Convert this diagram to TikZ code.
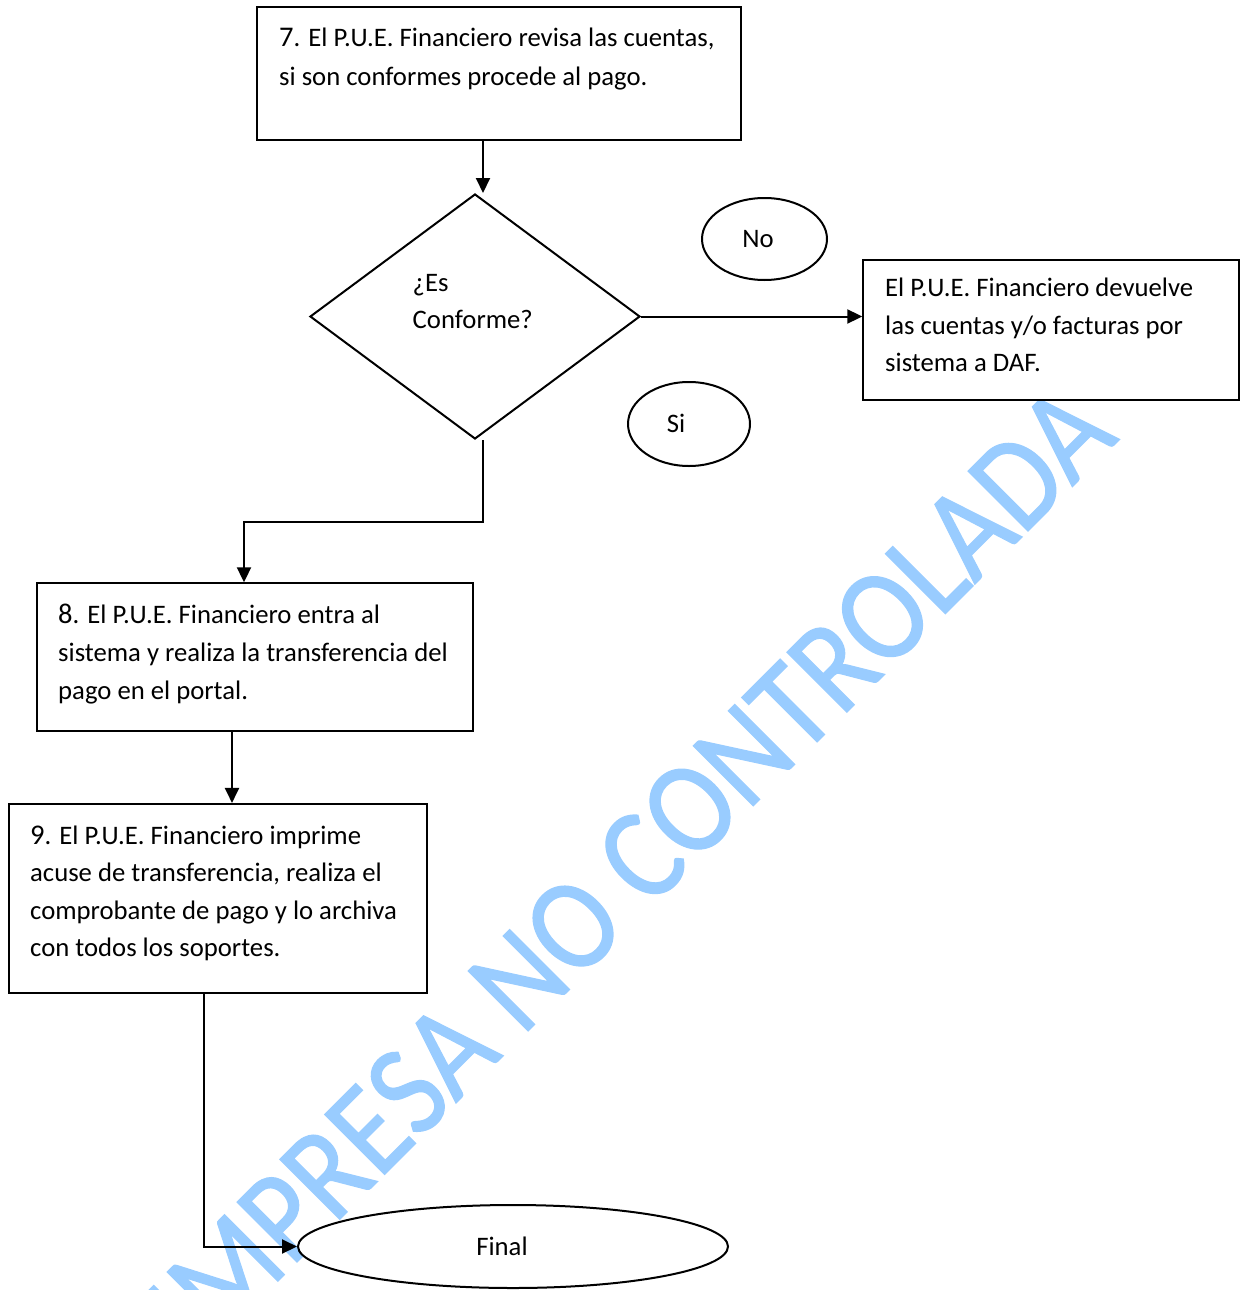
\documentclass[tikz,border=0pt]{standalone}
\usepackage{fontspec}
\setmainfont{Carlito}
\newfontfamily\wmfamily{Carlito}[FakeBold=1]
\usetikzlibrary{shapes.geometric,arrows.meta}
\definecolor{wmblue}{RGB}{153,204,255}
\newcommand\bodysize{\fontsize{26.7pt}{38.5pt}\selectfont}
\newcommand\numsize{\fontsize{28.5pt}{38.5pt}\selectfont}
\newcommand\wmsize{\wmfamily\fontsize{132pt}{132pt}\selectfont}
% a block of lines with a fixed distance between baselines; its baseline is the first line's
\newcommand\linestack[2]{\vtop{\baselineskip=#1\lineskiplimit=-1000pt\lineskip=0pt #2}}
\begin{document}
\begin{tikzpicture}[x=1pt,y=-1pt,
  stepbox/.style={draw, line width=2pt, fill=white, rectangle, inner sep=0pt},
  oval/.style={draw, line width=2pt, fill=white, ellipse, inner sep=0pt},
  decision/.style={draw, line width=2pt, fill=white, diamond, inner sep=0pt},
  txt/.style={font=\bodysize, anchor=base west, inner sep=0pt},
  word/.style={font=\bodysize, anchor=base, inner sep=0pt},
  arr/.style={line width=2pt, -{Triangle[length=15pt,width=14pt]}},
  link/.style={line width=2pt},
  watermark/.style={rotate=45, anchor=base east, inner sep=0pt, text=wmblue, font=\wmsize}]
\useasboundingbox (0,0) rectangle (1246,1290);

% watermark behind the flow chart
\begin{scope}
  \clip (0,0) rectangle (1246,1290);
  \node[watermark] (wm) at (1120,439) {\scalebox{0.886}[1]{IMPRESA NO CONTROLADA}};
\end{scope}

% shapes
\node[stepbox, minimum width=483.4pt, minimum height=132.7pt] (b7) at (499,73.7) {};
\node[decision, minimum width=330pt, minimum height=245pt] (dia) at (475,316.5) {};
\node[oval, minimum width=125pt, minimum height=82pt] (ovno) at (764.5,239) {};
\node[oval, minimum width=122pt, minimum height=84pt] (ovsi) at (689,424) {};
\node[stepbox, minimum width=376pt, minimum height=140pt] (bno) at (1051.3,330) {};
\node[stepbox, minimum width=436pt, minimum height=147.4pt] (b8) at (255.3,657) {};
\node[stepbox, minimum width=417.4pt, minimum height=188.7pt] (b9) at (218,898.3) {};
\node[oval, minimum width=430pt, minimum height=83pt] (fin) at (513,1246.5) {};

% texts
\node[txt] (t7) at (279,46.7) {\linestack{39.3pt}{%
  \hbox{{\numsize 7}. El P.U.E. Financiero revisa las cuentas,}
  \hbox{si son conformes procede al pago.}}};
\node[txt] (tdia) at (412.5,291.7) {\linestack{36.5pt}{%
  \hbox{¿Es}
  \hbox{Conforme?}}};
\node[word] (tno) at (758,247.6) {No};
\node[word] (tsi) at (676,432.6) {Si};
\node[txt] (tbno) at (885,296.7) {\linestack{37.5pt}{%
  \hbox{El P.U.E. Financiero devuelve}
  \hbox{las cuentas y/o facturas por}
  \hbox{sistema a DAF.}}};
\node[txt] (t8) at (58,623) {\linestack{38pt}{%
  \hbox{{\numsize 8}. El P.U.E. Financiero entra al}
  \hbox{sistema y realiza la transferencia del}
  \hbox{pago en el portal.}}};
\node[txt] (t9) at (30,844) {\linestack{37.6pt}{%
  \hbox{{\numsize 9}. El P.U.E. Financiero imprime}
  \hbox{acuse de transferencia, realiza el}
  \hbox{comprobante de pago y lo archiva}
  \hbox{con todos los soportes.}}};
\node[word] (tfin) at (502,1255.6) {Final};

% connector columns
\coordinate (c1) at (483,0);
\coordinate (turn) at (483,522);
\coordinate (c2) at (244,0);
\coordinate (c3) at (232,0);
\coordinate (c4) at (204,0);

% connectors
\draw[arr] (b7.south -| c1) -- (dia.north -| c1);
\draw[arr] (dia.east) -- (dia.east -| bno.west);
\draw[arr] (dia.south -| c1) -- (turn) -| (b8.north -| c2);
\draw[arr] (b8.south -| c3) -- (b9.north -| c3);
\draw[arr] (b9.south -| c4) |- (fin.west);
\end{tikzpicture}
\end{document}
